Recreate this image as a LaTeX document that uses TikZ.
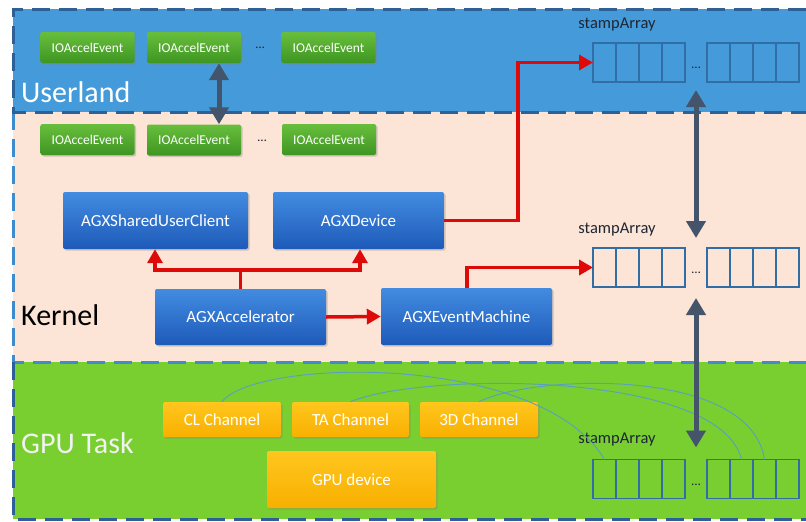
\documentclass[tikz,border=0pt]{standalone}
\usepackage{fontspec}
\setmainfont{Carlito}
\usetikzlibrary{arrows.meta,shadows,calc}

\definecolor{userblue}{RGB}{69,155,218}
\definecolor{kernelpeach}{RGB}{252,228,214}
\definecolor{gpugreen}{RGB}{121,206,48}
\definecolor{borderdark}{RGB}{44,96,150}
\definecolor{borderlight}{RGB}{62,140,205}
\definecolor{evtop}{RGB}{104,190,60}
\definecolor{evbot}{RGB}{62,150,34}
\definecolor{bxtop}{RGB}{66,140,225}
\definecolor{bxbot}{RGB}{30,90,185}
\definecolor{ortop}{RGB}{255,198,30}
\definecolor{orbot}{RGB}{248,176,0}
\definecolor{arrred}{RGB}{222,10,10}
\definecolor{slate}{RGB}{68,84,106}
\definecolor{cellline}{RGB}{48,110,165}
\definecolor{trace}{RGB}{88,160,192}
\definecolor{labeldark}{RGB}{30,38,52}

\tikzset{
  regionborder/.style={line width=3pt, dash pattern=on 18pt off 9pt},
  boxshadow/.style={drop shadow={opacity=0.35, shadow xshift=1.5pt, shadow yshift=-1.5pt}},
  evbox/.style={rounded corners=2pt, top color=evtop, bottom color=evbot,
    text=white, font=\fontsize{13.5}{15}\selectfont, minimum width=94pt,
    minimum height=31pt, inner sep=0pt, boxshadow},
  kbox/.style={rounded corners=2pt, top color=bxtop, bottom color=bxbot,
    text=white, font=\fontsize{17}{20}\selectfont, inner sep=0pt, boxshadow},
  obox/.style={rounded corners=2pt, top color=ortop, bottom color=orbot,
    text=white, font=\fontsize{17}{20}\selectfont, inner sep=0pt, boxshadow},
  cell/.style={draw=cellline, line width=1.3pt, minimum width=23pt,
    minimum height=39pt, inner sep=0pt, outer sep=0pt},
  dots/.style={font=\fontsize{13}{14}\selectfont, text=labeldark, inner sep=0pt},
  arrlabel/.style={font=\fontsize{16.5}{19}\selectfont, text=labeldark, inner sep=0pt},
  regionlabel/.style={font=\fontsize{30}{34}\selectfont, anchor=west, inner sep=0pt},
  redarrow/.style={draw=arrred, line width=3.5pt, -{Triangle[length=14pt,width=15pt]}},
  redline/.style={draw=arrred, line width=3.5pt},
  darrow/.style={draw=slate, line width=5pt,
    {Triangle[length=17pt,width=19pt]}-{Triangle[length=17pt,width=19pt]}},
  tracecurve/.style={draw=trace, line width=0.9pt},
}

\begin{document}
\begin{tikzpicture}[x=1pt, y=-1pt]
\useasboundingbox (0,0) rectangle (806,522);
\fill[white] (0,0) rectangle (806,522);

% layer backgrounds
\fill[userblue] (13,9) rectangle (806,112);
\fill[kernelpeach] (13,112) rectangle (806,362);
\fill[gpugreen] (13,362) rectangle (806,519);

% dashed layer borders
\draw[regionborder, borderlight] (13,112) -- (13,362) -- (806,362);
\draw[regionborder, borderdark] (13,362) -- (13,519) -- (806,519);
\draw[regionborder, borderdark] (806,9) -- (13,9) -- (13,112) -- (806,112);

% layer names
\node[regionlabel, text=white] (lu) at (21,92) {Userland};
\node[regionlabel, text=black] (lk) at (21,315) {Kernel};
\node[regionlabel, text=white!95!black] (lg) at (21,443) {GPU Task};

% IOAccelEvent objects, user side and kernel side
\node[evbox] (u1) at (87.5,47.5) {IOAccelEvent};
\node[evbox] (u2) at (194,47.5) {IOAccelEvent};
\node[dots] (ud) at (260,48) {…};
\node[evbox] (u3) at (328.5,47.5) {IOAccelEvent};

\node[evbox] (k1) at (87.5,139.5) {IOAccelEvent};
\node[evbox] (k2) at (194,140) {IOAccelEvent};
\node[dots] (kd) at (262,141) {…};
\node[evbox] (k3) at (329,139.5) {IOAccelEvent};

% kernel objects
\node[kbox, minimum width=185pt, minimum height=57pt] (suc) at (155.5,220.5) {AGXSharedUserClient};
\node[kbox, minimum width=171pt, minimum height=57pt] (dev) at (358.5,220.5) {AGXDevice};
\node[kbox, minimum width=171pt, minimum height=56pt] (acc) at (240.5,317) {AGXAccelerator};
\node[kbox, minimum width=171pt, minimum height=57pt] (em) at (466.5,316.5) {AGXEventMachine};

% GPU channels and device
\node[obox, minimum width=118pt, minimum height=35pt] (cl) at (222,419.5) {CL Channel};
\node[obox, minimum width=117pt, minimum height=35pt] (ta) at (350.5,419.5) {TA Channel};
\node[obox, minimum width=118pt, minimum height=35pt] (td) at (479,419.5) {3D Channel};
\node[obox, minimum width=169pt, minimum height=57pt] (gd) at (351.5,479.5) {GPU device};

% stamp arrays
\foreach \a/\y in {1/62.5, 2/267.5, 3/479} {
  \foreach \i in {1,...,4}
    \node[cell] (a\a-\i) at ({593+23*(\i-0.5)}, \y) {};
  \foreach \i in {5,...,8}
    \node[cell] (a\a-\i) at ({707+23*(\i-4.5)}, \y) {};
}
\node[dots] (d1) at (696,68) {…};
\node[dots] (d2) at (696,273) {…};
\node[dots] (d3) at (696,485) {…};

\node[arrlabel] (s1) at (617,25) {stampArray};
\node[arrlabel] (s2) at (617,230) {stampArray};
\node[arrlabel] (s3) at (617,440) {stampArray};

% channel traces into the GPU-side stamp array
\draw[tracecurve] (cl.north) .. controls (255,358) and (540,352) .. (a3-1.north);
\draw[tracecurve] (ta.north) .. controls (420,372) and (720,370) .. (a3-6.north);
\draw[tracecurve] (td.north) .. controls (530,375) and (750,365) .. (a3-7.north);

% red control-flow arrows
\coordinate (jn) at (240.5,270);
\coordinate (xl) at (155,0);
\coordinate (xr) at (360,0);
\coordinate (xd) at (518,0);
\coordinate (xe) at (467,0);
\draw[redline] (acc.north) -- (jn);
\draw[redarrow] (jn) -| (suc.south -| xl);
\draw[redarrow] (jn) -| (dev.south -| xr);
\draw[redarrow] (acc.east) -- (em.west);
\draw[redarrow] (dev.east) -| (xd |- a1-1.west) -- (a1-1.west);
\draw[redarrow] (em.north -| xe) |- (a2-1.west);

% data sharing between layers
\coordinate (ux) at (219,0);
\draw[darrow] (u2.south -| ux) -- (k2.north -| ux);
\draw[darrow, shorten <=8pt, shorten >=10pt] (a1-4.south -| d1) -- (a2-4.north -| d1);
\draw[darrow, shorten <=11pt, shorten >=12pt] (a2-4.south -| d2) -- (a3-4.north -| d3);
\end{tikzpicture}
\end{document}
